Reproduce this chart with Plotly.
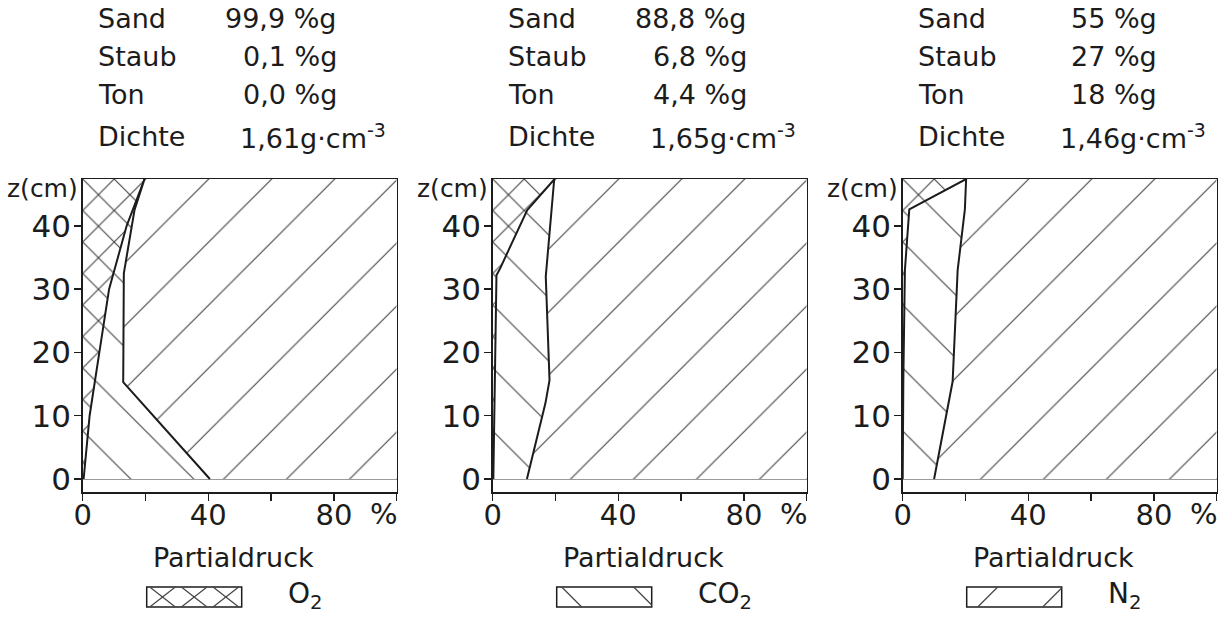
import plotly.graph_objects as go

W, H = 1225, 617

# ---------------- data ----------------
# depth z (cm) and cumulative partial pressure boundaries (%)
# Panel 1: Sand 99,9 %
z_o2_1 = [0, 5, 10, 20, 30, 40, 47.4]
o2_1 = [0.3, 1.2, 2.2, 5.3, 8.4, 14.0, 19.7]
z_sum_1 = [0, 15.3, 32.5, 42.5, 47.4]
o2co2_1 = [40.5, 12.9, 13.1, 16.5, 19.7]

# Panel 2: Sand 88,8 %
z_o2_2 = [0, 16, 32.2, 33.2, 42.5, 47.4]
o2_2 = [0.2, 0.6, 1.2, 2.3, 11.0, 19.7]
z_sum_2 = [0, 12, 15.6, 32, 47.4]
o2co2_2 = [10.9, 16.8, 18.1, 16.9, 19.6]

# Panel 3: Sand 55 %
z_o2_3 = [0, 15.6, 33, 42.6, 47.4]
o2_3 = [0.0, 0.2, 0.7, 2.1, 20.2]
z_sum_3 = [0, 15.4, 33, 42.6, 47.4]
o2co2_3 = [10.0, 15.9, 17.5, 19.8, 20.2]

z_top = 47.4
x_full = 100

soil_labels = ["Sand", "Staub", "Ton", "Dichte"]
soil_values = [
    ["99,9 %g", "0,1 %g", "0,0 %g", "1,61g·cm<sup>-3</sup>"],
    ["88,8 %g", "6,8 %g", "4,4 %g", "1,65g·cm<sup>-3</sup>"],
    ["55 %g", "27 %g", "18 %g", "1,46g·cm<sup>-3</sup>"],
]
gas_names = ["O<sub>2</sub>", "CO<sub>2</sub>", "N<sub>2</sub>"]

x_tickvals = [0, 40, 80]
x_ticktext = ["0", "40", "80"]
x_minorvals = [20, 60, 100]
y_tickvals = [0, 10, 20, 30, 40]
y_ticktext = ["0", "10", "20", "30", "40"]

panels = [
    (z_o2_1, o2_1, z_sum_1, o2co2_1),
    (z_o2_2, o2_2, z_sum_2, o2co2_2),
    (z_o2_3, o2_3, z_sum_3, o2co2_3),
]

# ---------------- styling ----------------
FONT = "DejaVu Sans"
INK = "#1c1c1c"
HATCH = "#454545"
PSIZE = 44.55                    # tile -> 63 px line spacing
XSIZE = PSIZE / 2                # cross hatch twice as dense
LW = 1.15
SOL_LINE = LW / PSIZE
SOL_X = 1 - (1 - LW / XSIZE) ** 2

plot_left = [82.7, 492.7, 902.7]
plot_w = 314.0
plot_top, plot_bot = 179.0, 492.0
y_range = [-2.05, 47.4]


def px(x):
    return x / W


def py(y):
    return 1 - y / H


fig = go.Figure()
annotations = []
shapes = []

for i, (zo, o2, zs, tot) in enumerate(panels):
    sfx = "" if i == 0 else str(i + 1)
    xa, ya = "x" + sfx, "y" + sfx
    fig.add_trace(go.Scatter(
        x=o2, y=zo, xaxis=xa, yaxis=ya, mode="lines", fill="tozerox",
        line=dict(color=INK, width=2),
        fillpattern=dict(shape="x", size=XSIZE, solidity=SOL_X, fgcolor=HATCH,
                         bgcolor="white", fillmode="replace"),
        showlegend=False, hoverinfo="skip"))
    fig.add_trace(go.Scatter(
        x=tot, y=zs, xaxis=xa, yaxis=ya, mode="lines", fill="tonextx",
        line=dict(color=INK, width=2),
        fillpattern=dict(shape="\\", size=PSIZE, solidity=SOL_LINE, fgcolor=HATCH,
                         bgcolor="white", fillmode="replace"),
        showlegend=False, hoverinfo="skip"))
    fig.add_trace(go.Scatter(
        x=[x_full, x_full], y=[0, z_top], xaxis=xa, yaxis=ya, mode="lines",
        fill="tonextx", line=dict(color=INK, width=0),
        fillpattern=dict(shape="/", size=PSIZE, solidity=SOL_LINE, fgcolor=HATCH,
                         bgcolor="white", fillmode="replace"),
        showlegend=False, hoverinfo="skip"))

    L = plot_left[i]
    fig.update_layout(**{
        "xaxis" + sfx: dict(
            domain=[px(L), px(L + plot_w)], range=[0, 100], anchor=ya,
            showline=True, mirror=True, linecolor=INK, linewidth=1.5,
            ticks="outside", ticklen=7, tickwidth=1.5, tickcolor=INK,
            tickvals=x_tickvals, ticktext=x_ticktext, automargin=False,
            minor=dict(tickvals=x_minorvals, ticks="outside", ticklen=7,
                       tickwidth=1.5, tickcolor=INK, showgrid=False),
            ticklabelstandoff=-10,
            tickfont=dict(family=FONT, size=29, color=INK),
            showgrid=False, zeroline=False, fixedrange=True),
        "yaxis" + sfx: dict(
            domain=[py(plot_bot), py(plot_top)], range=y_range, anchor=xa,
            showline=True, mirror=True, linecolor=INK, linewidth=1.5,
            ticks="outside", ticklen=7, tickwidth=1.5, tickcolor=INK,
            tickvals=y_tickvals, ticktext=y_ticktext, ticklabelstandoff=-3,
            tickfont=dict(family=FONT, size=31, color=INK), automargin=False,
            showgrid=False, zeroline=True, zerolinecolor="#9a9a9a",
            zerolinewidth=1.2, fixedrange=True),
    })

    # "%" unit label on x axis
    annotations.append(dict(
        text="%", xref=xa, x=96, yref="paper", y=py(514), showarrow=False,
        xanchor="center", yanchor="middle",
        font=dict(family=FONT, size=29, color=INK)))
    # z(cm)
    annotations.append(dict(
        text="z(cm)", xref="paper", x=px(L - 3), yref="paper", y=py(188),
        showarrow=False, xanchor="right", yanchor="middle",
        font=dict(family=FONT, size=25, color=INK)))
    # Partialdruck
    annotations.append(dict(
        text="Partialdruck", xref="paper", x=px(L + 151), yref="paper",
        y=py(557), showarrow=False, xanchor="center", yanchor="middle",
        font=dict(family=FONT, size=27, color=INK)))

    # soil composition text block
    off = 410 * i
    rows_y = [18, 56, 95, 136]
    for r, (lab, val) in enumerate(zip(soil_labels, soil_values[i])):
        annotations.append(dict(
            text=lab, xref="paper", x=px(96 + off), yref="paper", y=py(rows_y[r]),
            showarrow=False, xanchor="left", yanchor="middle",
            font=dict(family=FONT, size=27, color=INK)))
        vx = 388 if r == 3 else 339
        annotations.append(dict(
            text=val, xref="paper", x=px(vx + off), yref="paper", y=py(rows_y[r]),
            showarrow=False, xanchor="right", yanchor="middle",
            font=dict(family=FONT, size=27, color=INK)))

    # legend key box below each panel
    bx0, bx1 = L + 64, L + 159
    by0, by1 = 587, 607
    lk = dict(color=HATCH, width=1.2)
    shapes.append(dict(type="rect", xref="paper", yref="paper",
                       x0=px(bx0), x1=px(bx1), y0=py(by1), y1=py(by0),
                       line=dict(color=INK, width=1.5), fillcolor="white"))
    segs = []
    if i == 0:
        cw = (bx1 - bx0) / 3
        for k in range(3):
            a, b = bx0 + k * cw, bx0 + (k + 1) * cw
            segs += [((a + 3, by0), (b - 3, by1)), ((b - 3, by0), (a + 3, by1))]
    elif i == 1:
        segs += [((bx0 + 5, by0), (bx0 + 25, by1)), ((bx1 - 18, by0), (bx1, by1 - 2))]
    else:
        segs += [((bx0 + 11, by1), (bx0 + 31, by0)), ((bx1 - 19, by1), (bx1, by0 + 1))]
    for (xa0, ya0), (xa1, ya1) in segs:
        shapes.append(dict(type="line", xref="paper", yref="paper",
                           x0=px(xa0), y0=py(ya0), x1=px(xa1), y1=py(ya1), line=lk))
    annotations.append(dict(
        text=gas_names[i], xref="paper", x=px(L + 203), yref="paper", y=py(595),
        showarrow=False, xanchor="left", yanchor="middle",
        font=dict(family=FONT, size=28, color=INK)))

fig.update_layout(
    width=W, height=H, margin=dict(l=0, r=0, t=0, b=0, autoexpand=False),
    paper_bgcolor="white", plot_bgcolor="white",
    annotations=annotations, shapes=shapes, showlegend=False,
)

fig.write_html(
    "out.html",
    config={"displayModeBar": False, "staticPlot": True},
    post_script="document.body.style.margin='0px';document.body.style.overflow='hidden';",
)
